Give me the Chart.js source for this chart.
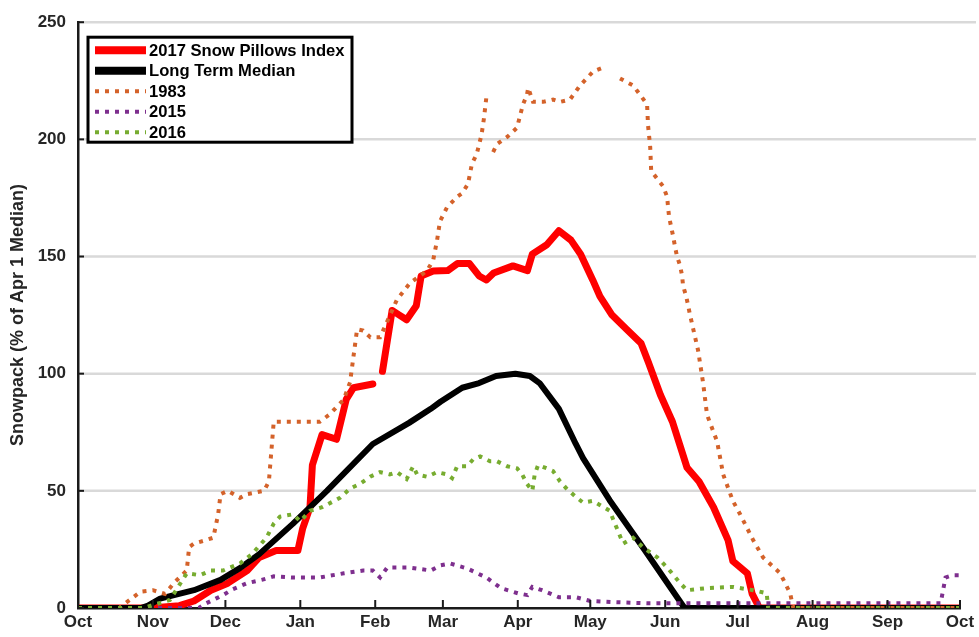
<!DOCTYPE html>
<html>
<head>
<meta charset="utf-8">
<script src="https://cdn.jsdelivr.net/npm/chart.js@4.4.0/dist/chart.umd.min.js"></script>
<style>
  html, body { margin: 0; padding: 0; background: #fff; }
  #wrap { width: 979px; height: 637px; }
</style>
</head>
<body>
<div id="wrap"><canvas id="c" width="979" height="637"></canvas></div>
<script>
// Water year axis: day offsets from Oct 1 for each month start
const monthDays   = [0, 31, 61, 92, 123, 151, 182, 212, 243, 273, 304, 335, 365];
const monthLabels = ['Oct', 'Nov', 'Dec', 'Jan', 'Feb', 'Mar', 'Apr', 'May', 'Jun', 'Jul', 'Aug', 'Sep', 'Oct'];
const yTickValues = [0, 50, 100, 150, 200, 250];

// 2017 Snow Pillows Index (% of Apr 1 median); null marks missing data
const days2017 = [0, 30, 42, 48, 55, 62, 70, 75, 82, 91, 93, 96, 97, 101, 107, 111, 114, 122, 124,
  126, 130, 133, 136, 140, 142, 147, 153, 157, 162, 166, 169, 172, 180, 186, 188, 194, 199, 204, 208,
  213, 216, 221, 227, 233, 236, 241, 246, 252, 257, 263, 269, 271, 277, 279, 282, 365];
const snow2017 = [0, 0, 1, 3, 7.6, 10.6, 16, 21.6, 24.5, 24.5, 34, 43, 61, 74, 72, 89, 94, 95.6, null,
  101, 127, 125, 123, 129, 141.7, 143.8, 144, 147, 147, 141.7, 140, 143, 146, 144, 151, 155, 161, 157, 151,
  140, 133, 125, 119, 113, 105, 91, 79.5, 60, 54, 43, 29, 20, 14.8, 6, 0, 0];

// Long term median
const daysMedian = [0, 26, 29, 34, 48, 59, 67, 75, 89, 103, 122, 137, 146, 150, 159, 166, 173, 181, 187,
  191, 199, 206, 209, 220, 234, 249, 251, 365];
const snowMedian = [0, 0, 1, 4, 7.6, 12, 17, 23, 36, 50, 70, 79, 85, 88, 94, 96, 99, 100, 99,
  96, 85, 70, 64, 46, 25.5, 3, 0, 0];

// 1983
const days1983 = [0, 17, 26, 31, 36, 40, 45, 46, 48, 53, 56, 58, 59, 62, 67, 70, 77, 79, 81, 85,
  100, 104, 110, 112.6, 115.5, 118, 121, 125, 132, 137.4, 144.5, 147, 148.6, 149.8, 152.7, 156.9, 159, 161.4,
  163, 165, 167, 168, 169, 170, 171.8, 173.4, 177.6, 181.7, 182.9, 184.2, 185.8, 186.3, 188.3, 192.5,
  196.6, 199.5, 203.6, 207.8, 213.2, 216.9, 220, 224.3, 229.7, 232.6, 235.5, 235.9, 236.8, 237.2,
  242.1, 243.8, 244.2, 244.6, 245.4, 246.3, 247.1, 247.9, 249.2, 250, 250.4, 251.7, 253.3, 256.6,
  258.7, 260.3, 264.5, 267, 271, 274, 279.4, 283.5, 290.6, 294.7, 296, 365];
const snow1983 = [0, 0, 7, 7.6, 6, 11, 16, 26, 27.5, 29, 30, 40, 48.6, 50, 47, 48.6, 50, 54, 79.5, 79.5,
  79.5, 82.5, 89, 96.4, 119, 118.4, 115.5, 115.5, 131.6, 138.7, 144, 148.5, 157, 165, 171, 175.5, 177, 181,
  189.5, 193.7, 202, 209, 218, null, 194.6, 198, 201, 205, 210, 215, 219, 222, 216, 216,
  217, 216, 217, 223, 229, 230.5, null, 226, 223, 219, 215, 206, 196.7, 186.5,
  180, 175.5, 171, 167, 163, 158.6, 154, 150, 146, 141.7, 137.5, 133, 125, 110,
  96, 82.5, 71, 57, 45.7, 40, 29, 21.6, 14.8, 6.3, 0, 0];

// 2015
const days2015 = [0, 50, 53, 57, 60, 64, 70, 76, 81, 89, 100, 110, 118, 122, 125, 128, 137, 146, 150,
  154, 161, 169, 175, 182, 186, 188, 192, 199, 206, 212, 222, 236, 357, 358, 359, 362, 365];
const snow2015 = [0, 0, 2, 4, 5.5, 8, 10.6, 12, 13.5, 13, 13, 14.8, 16, 16, 13, 17.3, 17.3, 16, 18.2,
  19, 16.9, 13, 8.5, 6.3, 5.5, 9, 7.6, 4.6, 4.6, 3, 2.5, 2, 2, 7.6, 13, 14, 14];

// 2016
const days2016 = [0, 27, 38, 45, 50.5, 55, 60, 67, 72, 78, 81, 83.6, 89, 92, 96, 101, 108.4, 112.6,
  116.7, 120.9, 125, 129, 132, 136, 138.7, 140.3, 144.5, 148.6, 152.7, 154.8, 156.9, 161, 163.5, 166.4,
  170.5, 173.4, 177.6, 181.7, 183.8, 185.8, 188, 189, 190.4, 194, 196.6, 199.5, 202.4, 206.5, 209, 213,
  220, 223, 225.6, 229.7, 233.9, 239.7, 243.8, 249.2, 252, 260.3, 271, 279.4, 285, 285.6, 365];
const snow2016 = [0, 0, 3.4, 14.8, 14, 16, 16, 19, 23, 30, 36, 39, 40, 37, 41.5, 43, 47, 51,
  53, 56, 58, 57, 58, 55, 60.5, 57, 56, 58, 57, 55.4, 60.5, 60.5, 63.4, 64.7,
  62.6, 62.6, 60.5, 59.6, 57, 53, 50, 57, 61, 59.6, 58.4, 54, 50.7, 47, 45, 45.7,
  41.5, 34, 27.5, 30, 25.8, 21.6, 17.3, 10.6, 7.6, 8.5, 9, 7.6, 6.3, 0, 0];

const FONT = '"Liberation Sans", Arial, Helvetica, sans-serif';

function points(days, vals) {
  return days.map((d, i) => ({ x: d, y: vals[i] }));
}

function dotted(label, color, days, vals, order) {
  return {
    label, order,
    data: points(days, vals),
    borderColor: color,
    borderWidth: 4,
    borderDash: [4, 6],
    borderCapStyle: 'butt',
    pointRadius: 0,
    tension: 0,
    spanGaps: false,
    fill: false
  };
}

// Light horizontal grid and MATLAB-style inward tick marks
const axisDecor = {
  id: 'axisDecor',
  beforeDatasetsDraw(chart) {
    const { ctx, chartArea, scales: { y } } = chart;
    ctx.save();
    ctx.strokeStyle = '#d9d9d9';
    ctx.lineWidth = 2.5;
    yTickValues.forEach(v => {
      if (v === 0) return;
      const py = y.getPixelForValue(v);
      ctx.beginPath();
      ctx.moveTo(chartArea.left + 2, py);
      ctx.lineTo(chartArea.right + 16, py);
      ctx.stroke();
    });
    ctx.restore();
  },
  afterDatasetsDraw(chart) {
    const { ctx, chartArea, scales: { x, y } } = chart;
    ctx.save();
    ctx.strokeStyle = '#1a1a1a';
    ctx.lineWidth = 2;
    monthDays.forEach(d => {
      const px = x.getPixelForValue(d);
      ctx.beginPath();
      ctx.moveTo(px, chartArea.bottom);
      ctx.lineTo(px, chartArea.bottom - 8);
      ctx.stroke();
    });
    yTickValues.forEach(v => {
      const py = y.getPixelForValue(v);
      ctx.beginPath();
      ctx.moveTo(chartArea.left, py);
      ctx.lineTo(chartArea.left + 6, py);
      ctx.stroke();
    });
    ctx.restore();
  }
};

// Boxed legend in the upper-left corner of the plot
const boxLegend = {
  id: 'boxLegend',
  afterDraw(chart) {
    const { ctx, chartArea } = chart;
    const x0 = chartArea.left + 10, y0 = chartArea.top + 15, w = 264, h = 105;
    ctx.save();
    ctx.fillStyle = '#fff';
    ctx.fillRect(x0, y0, w, h);
    ctx.strokeStyle = '#000';
    ctx.lineWidth = 3;
    ctx.strokeRect(x0, y0, w, h);
    ctx.font = 'bold 16.6px ' + FONT;
    ctx.textBaseline = 'middle';
    ctx.textAlign = 'left';
    chart.data.datasets.forEach((ds, i) => {
      const cy = y0 + 13 + i * 20.5;
      ctx.beginPath();
      ctx.strokeStyle = ds.borderColor;
      ctx.lineWidth = ds.borderDash ? ds.borderWidth : 8;
      ctx.setLineDash(ds.borderDash || []);
      ctx.lineCap = 'butt';
      ctx.moveTo(x0 + 7, cy);
      ctx.lineTo(x0 + 58, cy);
      ctx.stroke();
      ctx.setLineDash([]);
      ctx.fillStyle = '#000';
      ctx.fillText(ds.label, x0 + 61, cy + 1);
    });
    ctx.restore();
  }
};

new Chart(document.getElementById('c'), {
  type: 'line',
  data: {
    datasets: [
      {
        label: '2017 Snow Pillows Index', order: 5,
        data: points(days2017, snow2017),
        borderColor: '#ff0000', borderWidth: 7,
        borderJoinStyle: 'round', borderCapStyle: 'round',
        pointRadius: 0, tension: 0, spanGaps: false, fill: false
      },
      {
        label: 'Long Term Median', order: 4,
        data: points(daysMedian, snowMedian),
        borderColor: '#000000', borderWidth: 6,
        borderJoinStyle: 'round', borderCapStyle: 'round',
        pointRadius: 0, tension: 0, fill: false
      },
      dotted('1983', '#d4622a', days1983, snow1983, 3),
      dotted('2015', '#7e2f8e', days2015, snow2015, 2),
      dotted('2016', '#77ac30', days2016, snow2016, 1)
    ]
  },
  options: {
    responsive: false,
    devicePixelRatio: 1,
    animation: false,
    layout: { padding: { left: 0, right: 19, top: 17, bottom: 0 } },
    plugins: { legend: { display: false }, tooltip: { enabled: false } },
    scales: {
      x: {
        type: 'linear', min: 0, max: 365,
        afterBuildTicks: s => { s.ticks = monthDays.map(v => ({ value: v })); },
        afterFit: s => { s.height = 29; },
        grid: { display: false, drawTicks: false },
        border: { display: true, color: '#1a1a1a', width: 2.5 },
        ticks: {
          autoSkip: false, maxRotation: 0, padding: 4, color: '#262626',
          font: { family: FONT, size: 17, weight: 'bold' },
          callback: (v, i) => monthLabels[i]
        }
      },
      y: {
        min: 0, max: 250,
        afterBuildTicks: s => { s.ticks = yTickValues.map(v => ({ value: v })); },
        afterFit: s => { s.width = 78; },
        grid: { display: false, drawTicks: false },
        border: { display: true, color: '#1a1a1a', width: 2.5 },
        ticks: {
          padding: 12, color: '#262626',
          font: { family: FONT, size: 17, weight: 'bold' }
        },
        title: {
          display: true, text: 'Snowpack (% of Apr 1 Median)', color: '#262626',
          font: { family: FONT, size: 18, weight: 'bold' },
          padding: { top: 7, bottom: 0 }
        }
      }
    }
  },
  plugins: [axisDecor, boxLegend]
});
</script>
</body>
</html>
